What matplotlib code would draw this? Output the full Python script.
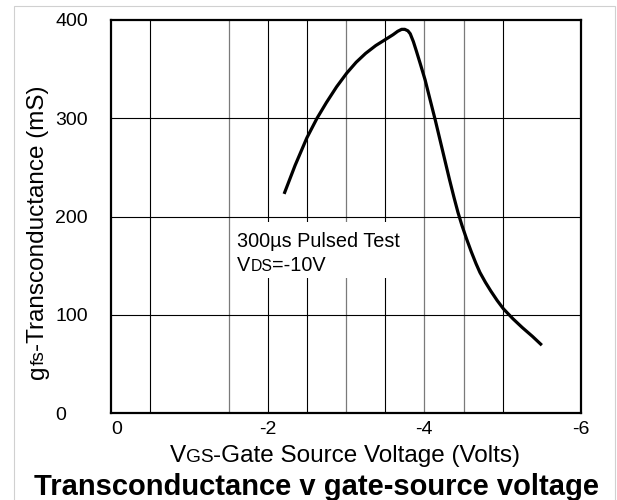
import matplotlib
matplotlib.use("Agg")
import matplotlib.pyplot as plt
from matplotlib.patches import Rectangle
from matplotlib.transforms import IdentityTransform

plt.rcParams['font.family'] = ['Liberation Sans', 'DejaVu Sans']

# ---- data ----
vgs = [-2.21, -2.35, -2.5, -2.63, -2.75, -2.88, -3.01, -3.13, -3.25, -3.38,
       -3.52, -3.6, -3.66, -3.71, -3.75, -3.79, -3.82, -3.86, -3.9, -3.95,
       -4.01, -4.07, -4.14, -4.2, -4.26, -4.32, -4.38, -4.43, -4.48, -4.54,
       -4.6, -4.66, -4.71, -4.78, -4.85, -4.93, -5.01, -5.13, -5.25, -5.38, -5.5]
gfs = [223, 252, 280, 300, 316, 332, 346, 357, 366, 374,
       381, 385, 388.5, 390.5, 390.5, 389, 386, 378, 368, 355,
       339, 320, 298, 278, 258, 238, 219, 204, 191, 177,
       164, 152, 143, 133, 124, 114.5, 106, 96, 87, 78, 69]

x_ticks = [0, -2, -4, -6]
x_tick_labels = ['0', '-2', '-4', '-6']
y_ticks = [0, 100, 200, 300, 400]
y_tick_labels = ['0', '100', '200', '300', '400']
grid_v_black = [-0.5, -2, -2.5, -3.5, -5]
grid_v_gray = [-1.5, -3, -4, -4.5]
grid_h = [100, 200, 300]

W, H = 617, 500
fig = plt.figure(figsize=(W / 100, H / 100), dpi=100)
ax = fig.add_axes([111 / W, 87 / H, 470 / W, 393 / H])

ax.set_xlim(0, -6)
ax.set_ylim(0, 400)

for v in grid_v_black:
    ax.axvline(v, color='black', lw=0.8, zorder=1)
for v in grid_v_gray:
    ax.axvline(v, color='#7a7a7a', lw=0.9, zorder=1)
for h in grid_h:
    ax.axhline(h, color='black', lw=0.8, zorder=1)

ax.plot(vgs, gfs, color='black', lw=2.3, solid_joinstyle='round',
        solid_capstyle='butt', zorder=3)

for s in ax.spines.values():
    s.set_linewidth(1.6)
    s.set_zorder(4)

ax.set_xticks(x_ticks, x_tick_labels, fontsize=14)
ax.set_yticks(y_ticks, y_tick_labels, fontsize=14)
ax.tick_params(length=0)
ax.tick_params(axis='x', pad=5.5)
ax.tick_params(axis='y', pad=40.3)
for lbl in ax.get_yticklabels():
    lbl.set_ha('left')
ax.get_xticklabels()[0].set_ha('left')

# white box behind annotation (display pixels)
idt = IdentityTransform()
ax.add_patch(Rectangle((232, 222), 182, 56, transform=idt, facecolor='white',
                       edgecolor='none', zorder=2, clip_on=False))

renderer = fig.canvas.get_renderer()


def rainbow(x, y, parts, rotation=0, **kw):
    """Draw text pieces on a shared baseline in display pixel coords."""
    pos = 0.0
    for s, size in parts:
        if rotation == 0:
            t = fig.text(x + pos, y, s, fontsize=size, transform=idt,
                         ha='left', va='baseline', **kw)
            pos += t.get_window_extent(renderer).width
        else:
            t = fig.text(x, y + pos, s, fontsize=size, transform=idt,
                         ha='left', va='baseline', rotation=90,
                         rotation_mode='anchor', **kw)
            pos += t.get_window_extent(renderer).height
    return pos


def measure(parts):
    total = 0.0
    for s, size in parts:
        t = fig.text(0, 0, s, fontsize=size, transform=idt)
        total += t.get_window_extent(renderer).width
        t.remove()
    return total


# annotation
fig.text(237, 500 - 247, '300\u00b5s Pulsed Test', fontsize=14.3, transform=idt,
         ha='left', va='baseline', zorder=5)
rainbow(237, 500 - 271, [('V', 14.3), ('DS', 11.3), ('=-10V', 14.3)])

# x label
xparts = [('V', 17.5), ('GS', 13.8), ('-Gate Source Voltage (Volts)', 17.5)]
wx = measure(xparts)
rainbow(345 - wx / 2, 500 - 462, xparts)

# y label
yparts = [('g', 17.5), ('fs', 13.8), ('-Transconductance (mS)', 17.5)]
wy = measure(yparts)
rainbow(44, 500 - 232 - wy / 2, yparts, rotation=90)

# title
fig.text(317, 500 - 495, 'Transconductance v gate-source voltage', fontsize=21,
         fontweight='bold', transform=idt, ha='center', va='baseline')

# outer light border
fig.patches.append(Rectangle((14, -10), 601, 504, transform=idt, facecolor='none',
                             edgecolor='#d0d0d0', lw=0.8))

fig.savefig('out.png', dpi=100)
